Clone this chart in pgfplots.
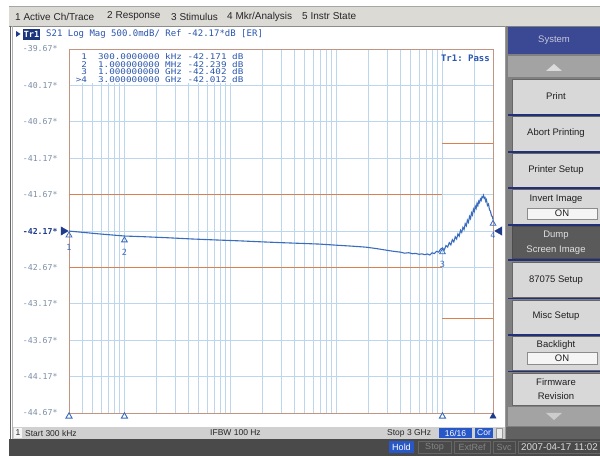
\documentclass[border=0pt]{standalone}
\usepackage{fontspec}
\setmainfont{Liberation Sans}
\newfontfamily\mono{DejaVu Sans Mono}
\newfontfamily\monowide[FakeStretch=1.19]{DejaVu Sans Mono}
\usepackage{pgfplots}
\pgfplotsset{compat=1.18}

\definecolor{menubg}{HTML}{DCDAD5}
\definecolor{tracecol}{HTML}{3A6CBE}
\definecolor{limitcol}{HTML}{D9804F}
\definecolor{gridcol}{HTML}{BCD6EE}
\definecolor{framecol}{HTML}{C49482}
\definecolor{refblue}{HTML}{1F3C8C}
\definecolor{titleblue}{HTML}{2A56AE}
\definecolor{ticklab}{HTML}{7D8EA8}
\definecolor{keyblue}{HTML}{2858C8}
\definecolor{sysblue}{HTML}{3B4994}
\definecolor{sepblue}{HTML}{22307A}
\definecolor{btn}{HTML}{D8D8D8}
\definecolor{btndark}{HTML}{5A5A5A}
\definecolor{statusbg}{HTML}{D0D0D0}
\definecolor{barbg}{HTML}{4A4A4A}

\newcommand\fs[1]{\fontsize{#1}{#1}\selectfont}

% measured S21 magnitude, frequency in Hz, magnitude in dB
\pgfplotstableread{
f        db
3e5      -42.171
4e5      -42.188
6e5      -42.212
1e6      -42.239
1.5e6    -42.248
2.5e6    -42.262
4.4e6    -42.280
7e6      -42.292
1.2e7    -42.305
1.9e7    -42.318
3e7      -42.330
5e7      -42.342
7e7      -42.350
1e8      -42.365
1.4e8    -42.378
1.9e8    -42.392
2.4e8    -42.412
2.8e8    -42.428
3.2e8    -42.442
3.6e8    -42.452
4.0e8    -42.460
4.4e8    -42.475
4.8e8    -42.468
5.2e8    -42.482
5.6e8    -42.478
6.0e8    -42.490
6.4e8    -42.484
6.8e8    -42.495
7.2e8    -42.486
7.6e8    -42.500
8.0e8    -42.470
8.4e8    -42.480
8.8e8    -42.450
9.2e8    -42.460
9.6e8    -42.420
1.0e9    -42.402
1.04e9   -42.43
1.08e9   -42.37
1.12e9   -42.39
1.16e9   -42.33
1.20e9   -42.36
1.24e9   -42.29
1.28e9   -42.32
1.32e9   -42.25
1.36e9   -42.28
1.40e9   -42.21
1.44e9   -42.24
1.48e9   -42.16
1.52e9   -42.19
1.56e9   -42.12
1.60e9   -42.15
1.64e9   -42.07
1.68e9   -42.10
1.72e9   -42.02
1.76e9   -42.05
1.80e9   -41.97
1.84e9   -42.00
1.88e9   -41.92
1.92e9   -41.95
1.96e9   -41.87
2.00e9   -41.90
2.04e9   -41.83
2.08e9   -41.86
2.12e9   -41.79
2.16e9   -41.82
2.20e9   -41.76
2.24e9   -41.78
2.28e9   -41.73
2.32e9   -41.75
2.36e9   -41.70
2.40e9   -41.71
2.44e9   -41.68
2.48e9   -41.72
2.52e9   -41.71
2.56e9   -41.76
2.60e9   -41.74
2.66e9   -41.82
2.72e9   -41.80
2.78e9   -41.88
2.84e9   -41.90
2.90e9   -41.96
2.95e9   -41.97
3.0e9    -42.012
}\trace

\begin{document}
\begin{tikzpicture}[x=1pt,y=1pt]
\fill[white] (0,0) rectangle (600,458);
\useasboundingbox (0,0) rectangle (600,458);

% ---- menu bar
\fill[menubg] (9,432) rectangle (600,451);
\draw[black!35] (9,451.5) -- (600,451.5);
\draw[black!45] (9,432) -- (600,432);
\begin{scope}[every node/.style={anchor=west, inner sep=0pt, font=\fs{10}, text=black!85}]
\node at (15,441.5) {1 Active Ch/Trace};
\node at (107,441.5) {2 Response};
\node at (171,441.5) {3 Stimulus};
\node at (227,441.5) {4 Mkr/Analysis};
\node at (302,441.5) {5 Instr State};
\end{scope}

% ---- trace window frame
\draw[black!60, line width=0.8pt] (10.5,19) -- (10.5,432);
\draw[black!30] (12.5,19) -- (12.5,432);
\draw[black!40] (505,19) -- (505,432);

% ---- title line
\fill[refblue] (16,427) -- (20.5,424) -- (16,421) -- cycle;
\fill[refblue!90!black] (23,418) rectangle (40,429);
\node[inner sep=0pt, text=white, font=\mono\bfseries\fs{8.5}] at (31.5,423.5) {Tr1};
\node[anchor=west, inner sep=0pt, text=titleblue, font=\mono\fs{9}] at (46,424)
  {S21 Log Mag 500.0mdB/ Ref -42.17*dB [ER]};

% ---- status line
\fill[statusbg] (13,19) rectangle (504.5,31);
\fill[black!4] (14,20) rectangle (22,30);
\begin{scope}[every node/.style={inner sep=0pt, font=\fs{8.5}, text=black!85}]
\node at (18,25) {1};
\node[anchor=west] at (25,25) {Start 300 kHz};
\node[anchor=west] at (210,25) {IFBW 100 Hz};
\node[anchor=west] at (387,25) {Stop 3 GHz};
\end{scope}
\fill[keyblue] (439,20) rectangle (472,30);
\node[inner sep=0pt, font=\fs{8.5}, text=white] at (455.5,25) {16/16};
\fill[keyblue] (475,20) rectangle (493,30);
\node[inner sep=0pt, font=\fs{8.5}, text=white] at (484,25) {Cor};
\filldraw[fill=black!8, draw=black!40] (496,20) rectangle (502,30);

% ---- bottom bar
\fill[barbg] (9,2) rectangle (600,19);
\fill[keyblue] (389,4.5) rectangle (414,16.5);
\node[inner sep=0pt, font=\fs{9}, text=white] at (401.5,10.5) {Hold};
\begin{scope}[every node/.style={inner sep=0pt, font=\fs{9}, text=black!48}]
\filldraw[fill=barbg, draw=black!60] (418,4.5) rectangle (451,16.5);
\node at (434.5,10.5) {Stop};
\filldraw[fill=barbg, draw=black!60] (454,4.5) rectangle (490,16.5);
\node at (472,10.5) {ExtRef};
\filldraw[fill=barbg, draw=black!60] (493,4.5) rectangle (515,16.5);
\node at (504,10.5) {Svc};
\end{scope}
\begin{scope}
\clip (0,0) rectangle (600,458);
\draw[black!60] (518,4.5) rectangle (603,16.5);
\node[anchor=west, inner sep=0pt, font=\fs{9.8}, text=black!15] at (521,10.5) {2007-04-17 11:02};
\end{scope}

% ---- soft key panel
\fill[black!50] (505.5,19) rectangle (600,432);
\fill[black!62] (505.5,19) rectangle (600,31);
\fill[sysblue] (508,404) rectangle (600,431);
\node[inner sep=0pt, font=\fs{9.5}, text=blue!8!white!85!black] at (554,417.5) {System};
\fill[black!36] (508,381) rectangle (600,402);
\fill[black!14] (546,387) -- (562,387) -- (554,394) -- cycle;
\begin{scope}[every node/.style={inner sep=0pt, font=\fs{9.5}, text=black!88}]
\filldraw[fill=btn, draw=black!60] (512,344) rectangle (600,379);
\node at (556,361.5) {Print};
\filldraw[fill=btn, draw=black!60] (512,307) rectangle (600,342);
\node at (556,325) {Abort Printing};
\filldraw[fill=btn, draw=black!60] (512,271) rectangle (600,305);
\node at (556,288) {Printer Setup};
\filldraw[fill=btn, draw=black!60] (512,234) rectangle (600,269);
\node at (556,259) {Invert Image};
\filldraw[fill=black!4, draw=black!45] (527,239) rectangle (597,250);
\node at (562,244.5) {ON};
\filldraw[fill=btndark, draw=black!70] (512,200) rectangle (600,232);
\node[text=black!12] at (556,223) {Dump};
\node[text=black!12] at (556,208) {Screen Image};
\filldraw[fill=btn, draw=black!60] (512,161) rectangle (600,196);
\node at (556,178) {87075 Setup};
\filldraw[fill=btn, draw=black!60] (512,124) rectangle (600,158);
\node at (556,142) {Misc Setup};
\filldraw[fill=btn, draw=black!60] (512,88) rectangle (600,122);
\node at (556,113) {Backlight};
\filldraw[fill=black!4, draw=black!45] (527,94) rectangle (597,106);
\node at (562,100) {ON};
\filldraw[fill=btn, draw=black!60] (512,53) rectangle (600,85);
\node at (556,76) {Firmware};
\node at (556,62) {Revision};
\end{scope}
\fill[black!36] (508,32) rectangle (600,51);
\fill[black!20] (546,45) -- (562,45) -- (554,38) -- cycle;
\foreach \yy in {343,306,270,233,198,159.5,123,86.5}
  \draw[sepblue, line width=1.5pt] (508,\yy) -- (600,\yy);

% ---- measurement graticule
\begin{axis}[
  at={(69pt,45pt)}, anchor=south west,
  scale only axis, width=424pt, height=364pt,
  xmode=log, xmin=3e5, xmax=3e9,
  ymin=-44.67, ymax=-39.67,
  xtick={1e6,1e7,1e8,1e9},
  minor xtick={4e5,5e5,6e5,7e5,8e5,9e5,
               2e6,3e6,4e6,5e6,6e6,7e6,8e6,9e6,
               2e7,3e7,4e7,5e7,6e7,7e7,8e7,9e7,
               2e8,3e8,4e8,5e8,6e8,7e8,8e8,9e8,2e9},
  xticklabels={},
  xticklabel style={opacity=0},
  ytick={-44.67,-44.17,-43.67,-43.17,-42.67,-42.17,-41.67,-41.17,-40.67,-40.17,-39.67},
  yticklabels={-44.67*,-44.17*,-43.67*,-43.17*,-42.67*,{\bfseries\color{refblue}-42.17*},-41.67*,-41.17*,-40.67*,-40.17*,-39.67*},
  yticklabel style={font=\mono\fs{8.2}, text=ticklab, anchor=east, xshift=-8pt},
  /pgf/number format/assume math mode=true,
  major tick length=0pt, minor tick length=0pt,
  grid=both,
  major grid style={draw=gridcol, line width=0.6pt},
  minor grid style={draw=gridcol, line width=0.6pt},
  axis line style={draw=framecol, line width=0.9pt},
  clip=false,
]
% pass/fail limit lines
\addplot[limitcol, line width=1.3pt] coordinates {(3e5,-41.67) (1e9,-41.67)};
\addplot[limitcol, line width=1.3pt] coordinates {(3e5,-42.67) (1e9,-42.67)};
\addplot[limitcol, line width=1.3pt] coordinates {(1e9,-40.97) (3e9,-40.97)};
\addplot[limitcol, line width=1.3pt] coordinates {(1e9,-43.37) (3e9,-43.37)};
% trace
\addplot[tracecol, line width=1.1pt] table[x=f, y=db] {\trace};
% markers on the trace
\addplot[only marks, mark=triangle, mark size=3.3pt, tracecol, line width=0.8pt,
  mark options={fill=white, yshift=-4.2pt},
  nodes near coords, point meta=explicit symbolic,
  every node near coord/.append style={anchor=north, yshift=-8.5pt, inner sep=0pt,
    font=\mono\fs{8.5}, text=tracecol}]
  coordinates {(3e5,-42.171)[1] (1e6,-42.239)[2] (1e9,-42.402)[3] (3e9,-42.012)[4]};
% marker positions along the bottom edge
\addplot[only marks, mark=triangle, mark size=3.6pt, tracecol, line width=0.9pt,
  mark options={fill=white, yshift=-3.4pt}]
  coordinates {(3e5,-44.67) (1e6,-44.67) (1e9,-44.67)};
\addplot[only marks, mark=triangle*, mark size=3.6pt, refblue,
  mark options={yshift=-3.4pt}]
  coordinates {(3e9,-44.67)};
% reference level pointers
\addplot[only marks, mark=triangle*, mark size=4.8pt, refblue,
  mark options={xshift=-5.6pt, rotate=-90}]
  coordinates {(3e5,-42.17)};
\addplot[only marks, mark=triangle*, mark size=4.8pt, refblue,
  mark options={xshift=6.5pt, rotate=90}]
  coordinates {(3e9,-42.17)};
\end{axis}

% ---- marker readout table
\fill[white] (71,375) rectangle (255,408.3);
\begin{scope}[every node/.style={anchor=base west, inner sep=0pt, text=titleblue,
                                 font=\monowide\fs{7.8}}]
\node at (70,398.1) {~~1~~300.0000000~kHz~-42.171~dB};
\node at (70,390.7) {~~2~~1.000000000~MHz~-42.239~dB};
\node at (70,383.3) {~~3~~1.000000000~GHz~-42.402~dB};
\node at (70,375.9) {~>4~~3.000000000~GHz~-42.012~dB};
\end{scope}
\node[anchor=east, inner sep=0pt, font=\mono\bfseries\fs{9}, text=titleblue] at (490,400) {Tr1:~Pass};
\end{tikzpicture}
\end{document}
